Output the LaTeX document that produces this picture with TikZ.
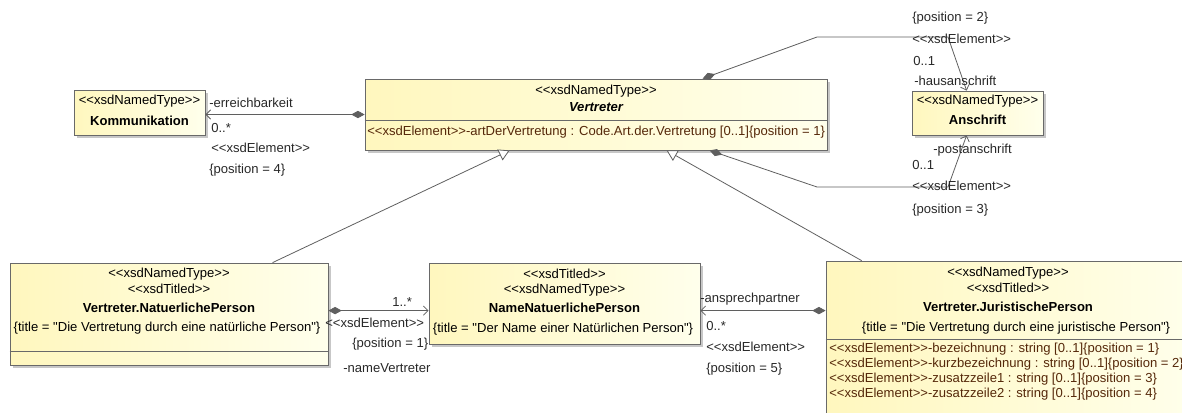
\documentclass[tikz,border=0pt]{standalone}
\usepackage{fontspec}
\setmainfont{Liberation Sans}[Ligatures=TeXOff]
\usetikzlibrary{arrows.meta,calc,shadows}
\definecolor{lin}{RGB}{95,95,95}
\definecolor{brd}{RGB}{105,105,105}
\definecolor{attr}{RGB}{85,40,10}
\definecolor{fillA}{RGB}{255,247,190}
\definecolor{fillB}{RGB}{255,255,236}
\definecolor{lbl}{RGB}{40,40,40}
\begin{document}
\begin{tikzpicture}[x=0.75pt,y=-0.75pt,
  box/.style={draw=brd, line width=0.6pt, left color=fillA, right color=fillB, inner sep=0pt,
    drop shadow={shadow xshift=2.2pt, shadow yshift=-2.2pt, fill=black!40, opacity=0.55}},
  txt/.style={inner sep=0pt, font=\fontsize{9.8}{11}\selectfont, text=black},
  nm/.style={txt, font=\fontsize{9.8}{11}\selectfont\bfseries},
  attrtxt/.style={txt, anchor=west, text=attr},
  lb/.style={txt, anchor=west, text=lbl},
  assoc/.style={draw=lin, line width=0.6pt, {Diamond[length=10pt,width=5.5pt,fill=lin]}-{Straight Barb[length=3.5pt,width=7pt]}},
  gen/.style={draw=lin, line width=0.6pt, -{Triangle[open,length=8pt,width=9pt,fill=white]}},
  sep/.style={draw=brd, line width=0.6pt}
]
\clip (0,0) rectangle (1182,412);
\useasboundingbox (0,0) rectangle (1182,412);

% boxes
\node[box, minimum width={131*0.75pt}, minimum height={45*0.75pt}] (komm) at (139.5,112.5) {};
\node[box, minimum width={462*0.75pt}, minimum height={71*0.75pt}] (vert) at (596,114.5) {};
\node[box, minimum width={131*0.75pt}, minimum height={44*0.75pt}] (ansch) at (977.5,113) {};
\node[box, minimum width={318*0.75pt}, minimum height={102*0.75pt}] (nat) at (169,314) {};
\node[box, minimum width={271*0.75pt}, minimum height={81*0.75pt}] (namen) at (564.5,303.5) {};
\node[box, minimum width={374*0.75pt}, minimum height={164*0.75pt}] (jur) at (1013,343) {};

\draw[sep] ($(vert.north west)+(0,42)$) -- ($(vert.north east)+(0,42)$);
\draw[sep] ($(nat.north west)+(0,89)$) -- ($(nat.north east)+(0,89)$);
\draw[sep] ($(jur.north west)+(0,79)$) -- ($(jur.north east)+(0,79)$);

% box texts
\node[txt] (kommS) at (139.5,101) {<<xsdNamedType>>};
\node[nm] (kommN) at (139.5,121) {Kommunikation};

\node[txt] (vertS) at (596,91) {<<xsdNamedType>>};
\node[nm, font=\fontsize{9.8}{11}\selectfont\bfseries\itshape] (vertN) at (596,107) {Vertreter};
\node[attrtxt] (vertA) at (367,132) {<<xsdElement>>-artDerVertretung : Code.Art.der.Vertretung [0..1]\{position = 1\}};

\node[txt] (anschS) at (977.5,101) {<<xsdNamedType>>};
\node[nm] (anschN) at (977.5,120) {Anschrift};

\node[txt] (natS1) at (169,274) {<<xsdNamedType>>};
\node[txt] (natS2) at (169,289) {<<xsdTitled>>};
\node[nm] (natN) at (169,308) {Vertreter.NatuerlichePerson};
\node[txt] (natT) at (167,328) {\{title = "Die Vertretung durch eine natürliche Person"\}};

\node[txt] (namS1) at (564.5,274) {<<xsdTitled>>};
\node[txt] (namS2) at (564.5,290) {<<xsdNamedType>>};
\node[nm] (namN) at (564.5,308) {NameNatuerlichePerson};
\node[txt] (namT) at (563,329) {\{title = "Der Name einer Natürlichen Person"\}};

\node[txt] (jurS1) at (1008,273) {<<xsdNamedType>>};
\node[txt] (jurS2) at (1008,288) {<<xsdTitled>>};
\node[nm] (jurN) at (1008,307) {Vertreter.JuristischePerson};
\node[txt] (jurT) at (1016,328) {\{title = "Die Vertretung durch eine juristische Person"\}};
\node[attrtxt] (jurA1) at (829,349) {<<xsdElement>>-bezeichnung : string [0..1]\{position = 1\}};
\node[attrtxt] (jurA2) at (829,364) {<<xsdElement>>-kurzbezeichnung : string [0..1]\{position = 2\}};
\node[attrtxt] (jurA3) at (829,379) {<<xsdElement>>-zusatzzeile1 : string [0..1]\{position = 3\}};
\node[attrtxt] (jurA4) at (829,394) {<<xsdElement>>-zusatzzeile2 : string [0..1]\{position = 4\}};

% bend points
\coordinate (hb1) at (817,37);
\coordinate (hb2) at (948,37);
\coordinate (pb1) at (817,187);
\coordinate (pb2) at (948,187);

% connectors
\draw[assoc] (vert.west) -- (vert.west -| komm.east);
\draw[assoc] ($(vert.north west)+(338,0)$) -- (hb1) -- (hb2) -- ($(ansch.north west)+(55,0)$);
\draw[assoc] ($(vert.south west)+(345,0)$) -- (pb1) -- (pb2) -- ($(ansch.south west)+(55,0)$);
\draw[assoc] ($(nat.north east)+(0,48)$) coordinate (n1) -- (n1 -| namen.west);
\draw[assoc] ($(jur.north west)+(0,50)$) coordinate (j1) -- (j1 -| namen.east);
\draw[gen] ($(nat.north west)+(263,0)$) -- ($(vert.south west)+(145,0)$);
\draw[gen] ($(jur.north west)+(36,0)$) -- ($(vert.south west)+(302,0)$);

% connector labels
\node[lb] (e1) at (209,103) {-erreichbarkeit};
\node[lb] (e2) at (211,128) {0..*};
\node[lb] (e3) at (211,148) {<<xsdElement>>};
\node[lb] (e4) at (209,170) {\{position = 4\}};

\node[lb] (h1) at (912,18) {\{position = 2\}};
\node[lb] (h2) at (912,39) {<<xsdElement>>};
\node[lb] (h3) at (913,61) {0..1};
\node[lb] (h4) at (914,81) {-hausanschrift};

\node[lb] (p1) at (933,150) {-postanschrift};
\node[lb] (p2) at (912,165) {0..1};
\node[lb] (p3) at (912,186) {<<xsdElement>>};
\node[lb] (p4) at (912,210) {\{position = 3\}};

\node[lb] (v1) at (392,302) {1..*};
\node[lb] (v2) at (325,323) {<<xsdElement>>};
\node[lb] (v3) at (352,344) {\{position = 1\}};
\node[lb] (v4) at (343,368) {-nameVertreter};

\node[lb] (a1) at (700,299) {-ansprechpartner};
\node[lb] (a2) at (706,326) {0..*};
\node[lb] (a3) at (706,347) {<<xsdElement>>};
\node[lb] (a4) at (706,369) {\{position = 5\}};
\end{tikzpicture}
\end{document}
